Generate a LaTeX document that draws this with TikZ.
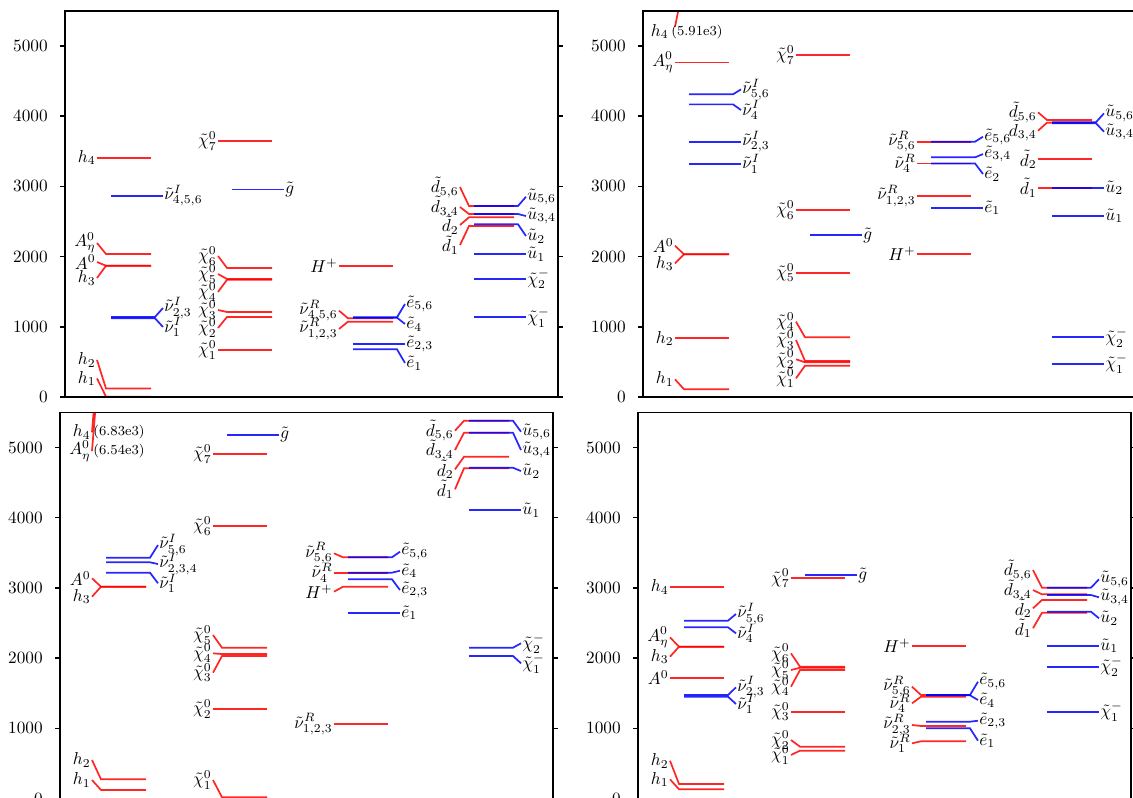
\documentclass[tikz,border=0pt]{standalone}
\usepackage{amsmath}
\usepackage{amssymb}
\usepackage{tikz}

\tikzset{
  redlvl/.style={draw=red, line width=1pt, draw opacity=0.85},
  bluelvl/.style={draw=blue, line width=1pt, draw opacity=0.85},
  lbl/.style={inner sep=0.6pt},
  axisline/.style={black, line width=0.85pt},
  ticklbl/.style={anchor=east, inner sep=0pt}
}

% level with label on the left (column, mass, label height, label)
\newcommand{\rlvl}[4]{%
  \draw[redlvl] ({32+121*#1},#3) -- ({41+121*#1},#2) -- ({86+121*#1},#2);
  \node[lbl,anchor=east] at ({32+121*#1},#3) {$#4$};}
% level with label on the right
\newcommand{\blvl}[4]{%
  \draw[bluelvl] ({46+121*#1},#2) -- ({90+121*#1},#2) -- ({98+121*#1},#3);
  \node[lbl,anchor=west] at ({98+121*#1},#3) {$#4$};}
% frame and ticks of one panel
\newcommand{\panelframe}{%
  \draw[axisline] (0,0) rectangle (493,5500);
  \foreach \m in {0,1000,...,5000} {
    \draw[axisline] (0,\m) -- (-5,\m);
    \draw[axisline] (493,\m) -- (498,\m);
    \node[ticklbl] at (-17,\m) {\m};
  }}

\begin{document}
\begin{tikzpicture}[x=0.58pt,y=0.58pt]
\clip (0,0) rectangle (1133,798);

% top left
\begin{scope}[shift={(65,401)},y=0.040716pt]
\begin{scope}
\clip (0,0) rectangle (493,5500);
\rlvl{0}{5}{265}{h_1}
\rlvl{0}{120}{527}{h_2}
\rlvl{0}{1870}{1695}{h_3}
\rlvl{0}{1870}{1923}{A^0}
\rlvl{0}{2037}{2194}{A^0_\eta}
\rlvl{0}{3409}{3409}{h_4}
\blvl{0}{1121}{997}{\tilde\nu^I_1}
\blvl{0}{1140}{1268}{\tilde\nu^I_{2,3}}
\blvl{0}{2868}{2868}{\tilde\nu^I_{4,5,6}}
\rlvl{1}{670}{670}{\tilde\chi^0_1}
\rlvl{1}{1140}{983}{\tilde\chi^0_2}
\rlvl{1}{1211}{1239}{\tilde\chi^0_3}
\rlvl{1}{1670}{1496}{\tilde\chi^0_4}
\rlvl{1}{1681}{1752}{\tilde\chi^0_5}
\rlvl{1}{1838}{2009}{\tilde\chi^0_6}
\rlvl{1}{3647}{3647}{\tilde\chi^0_7}
\blvl{1}{2958}{2958}{\tilde g}
\rlvl{2}{1073}{969}{\tilde\nu^R_{1,2,3}}
\rlvl{2}{1121}{1230}{\tilde\nu^R_{4,5,6}}
\rlvl{2}{1870}{1870}{H^+}
\blvl{2}{679}{484}{\tilde e_1}
\blvl{2}{755}{755}{\tilde e_{2,3}}
\blvl{2}{1130}{1040}{\tilde e_4}
\blvl{2}{1135}{1325}{\tilde e_{5,6}}
\rlvl{3}{2436}{2165}{\tilde d_1}
\rlvl{3}{2560}{2450}{\tilde d_2}
\rlvl{3}{2607}{2707}{\tilde d_{3,4}}
\rlvl{3}{2721}{2991}{\tilde d_{5,6}}
\blvl{3}{2033}{2033}{\tilde u_1}
\blvl{3}{2460}{2293}{\tilde u_2}
\blvl{3}{2607}{2578}{\tilde u_{3,4}}
\blvl{3}{2721}{2853}{\tilde u_{5,6}}
\blvl{3}{1135}{1135}{\tilde\chi^-_1}
\blvl{3}{1681}{1681}{\tilde\chi^-_2}
\end{scope}
\panelframe
\end{scope}

% top right
\begin{scope}[shift={(643,401)},y=0.040716pt]
\begin{scope}
\clip (0,0) rectangle (493,5500);
\rlvl{0}{110}{252}{h_1}
\rlvl{0}{836}{836}{h_2}
\rlvl{0}{2033}{1904}{h_3}
\rlvl{0}{2033}{2155}{A^0}
\rlvl{0}{4767}{4767}{A^0_\eta}
\draw[redlvl] (32,5274) -- (41,5910);
\node[lbl,anchor=east] at (27,5204) {$h_4$};
\node[lbl,anchor=west,font=\footnotesize] at (27,5204) {(5.91e3)};
\blvl{0}{3323}{3323}{\tilde\nu^I_1}
\blvl{0}{3637}{3637}{\tilde\nu^I_{2,3}}
\blvl{0}{4169}{4088}{\tilde\nu^I_4}
\blvl{0}{4312}{4383}{\tilde\nu^I_{5,6}}
\rlvl{1}{446}{266}{\tilde\chi^0_1}
\rlvl{1}{494}{537}{\tilde\chi^0_2}
\rlvl{1}{513}{812}{\tilde\chi^0_3}
\rlvl{1}{850}{1073}{\tilde\chi^0_4}
\rlvl{1}{1771}{1771}{\tilde\chi^0_5}
\rlvl{1}{2664}{2664}{\tilde\chi^0_6}
\rlvl{1}{4872}{4872}{\tilde\chi^0_7}
\blvl{1}{2308}{2308}{\tilde g}
\rlvl{2}{2041}{2041}{H^+}
\rlvl{2}{2863}{2863}{\tilde\nu^R_{1,2,3}}
\rlvl{2}{3328}{3328}{\tilde\nu^R_4}
\rlvl{2}{3637}{3637}{\tilde\nu^R_{5,6}}
\blvl{2}{2697}{2697}{\tilde e_1}
\blvl{2}{3328}{3177}{\tilde e_2}
\blvl{2}{3414}{3461}{\tilde e_{3,4}}
\blvl{2}{3637}{3708}{\tilde e_{5,6}}
\rlvl{3}{2982}{2982}{\tilde d_1}
\rlvl{3}{3386}{3386}{\tilde d_2}
\rlvl{3}{3908}{3793}{\tilde d_{3,4}}
\rlvl{3}{3946}{4056}{\tilde d_{5,6}}
\blvl{3}{2583}{2583}{\tilde u_1}
\blvl{3}{2982}{2982}{\tilde u_2}
\blvl{3}{3900}{3779}{\tilde u_{3,4}}
\blvl{3}{3915}{4041}{\tilde u_{5,6}}
\blvl{3}{474}{474}{\tilde\chi^-_1}
\blvl{3}{850}{850}{\tilde\chi^-_2}
\end{scope}
\panelframe
\end{scope}

% bottom left
\begin{scope}[shift={(60,-0.5)},y=0.040716pt]
\begin{scope}
\clip (0,0) rectangle (493,5500);
\draw[redlvl] (32,5217) -- (41,6830);
\draw[redlvl] (32,4950) -- (41,6540);
\node[lbl,anchor=east] at (32,5217) {$h_4$};
\node[lbl,anchor=west,font=\footnotesize] at (32,5217) {(6.83e3)};
\node[lbl,anchor=east] at (32,4950) {$A^0_\eta$};
\node[lbl,anchor=west,font=\footnotesize] at (32,4950) {(6.54e3)};
\rlvl{0}{121}{263}{h_1}
\rlvl{0}{273}{548}{h_2}
\rlvl{0}{3017}{2875}{h_3}
\rlvl{0}{3017}{3137}{A^0}
\blvl{0}{3217}{3066}{\tilde\nu^I_1}
\blvl{0}{3365}{3340}{\tilde\nu^I_{2,3,4}}
\blvl{0}{3430}{3611}{\tilde\nu^I_{5,6}}
\rlvl{1}{17}{263}{\tilde\chi^0_1}
\rlvl{1}{1275}{1275}{\tilde\chi^0_2}
\rlvl{1}{2030}{1792}{\tilde\chi^0_3}
\rlvl{1}{2058}{2068}{\tilde\chi^0_4}
\rlvl{1}{2148}{2329}{\tilde\chi^0_5}
\rlvl{1}{3882}{3882}{\tilde\chi^0_6}
\rlvl{1}{4907}{4907}{\tilde\chi^0_7}
\blvl{1}{5182}{5182}{\tilde g}
\rlvl{2}{1057}{1057}{\tilde\nu^R_{1,2,3}}
\rlvl{2}{3017}{2946}{H^+}
\rlvl{2}{3217}{3217}{\tilde\nu^R_4}
\rlvl{2}{3436}{3493}{\tilde\nu^R_{5,6}}
\blvl{2}{2647}{2647}{\tilde e_1}
\blvl{2}{3122}{2970}{\tilde e_{2,3}}
\blvl{2}{3217}{3245}{\tilde e_4}
\blvl{2}{3436}{3516}{\tilde e_{5,6}}
\rlvl{3}{4704}{4405}{\tilde d_1}
\rlvl{3}{4869}{4689}{\tilde d_2}
\rlvl{3}{5211}{4964}{\tilde d_{3,4}}
\rlvl{3}{5382}{5240}{\tilde d_{5,6}}
\blvl{3}{4110}{4110}{\tilde u_1}
\blvl{3}{4712}{4665}{\tilde u_2}
\blvl{3}{5211}{4964}{\tilde u_{3,4}}
\blvl{3}{5382}{5225}{\tilde u_{5,6}}
\blvl{3}{2030}{1926}{\tilde\chi^-_1}
\blvl{3}{2148}{2211}{\tilde\chi^-_2}
\end{scope}
\panelframe
\end{scope}

% bottom right
\begin{scope}[shift={(638,-0.5)},y=0.040716pt]
\begin{scope}
\clip (0,0) rectangle (493,5500);
\rlvl{0}{131}{273}{h_1}
\rlvl{0}{207}{538}{h_2}
\rlvl{0}{1721}{1721}{A^0}
\rlvl{0}{2162}{2020}{h_3}
\rlvl{0}{2162}{2296}{A^0_\eta}
\rlvl{0}{3009}{3009}{h_4}
\blvl{0}{1450}{1346}{\tilde\nu^I_1}
\blvl{0}{1474}{1584}{\tilde\nu^I_{2,3}}
\blvl{0}{2439}{2353}{\tilde\nu^I_4}
\blvl{0}{2533}{2628}{\tilde\nu^I_{5,6}}
\rlvl{1}{681}{620}{\tilde\chi^0_1}
\rlvl{1}{738}{833}{\tilde\chi^0_2}
\rlvl{1}{1237}{1237}{\tilde\chi^0_3}
\rlvl{1}{1830}{1593}{\tilde\chi^0_4}
\rlvl{1}{1863}{1830}{\tilde\chi^0_5}
\rlvl{1}{1877}{2068}{\tilde\chi^0_6}
\rlvl{1}{3137}{3137}{\tilde\chi^0_7}
\blvl{1}{3184}{3184}{\tilde g}
\rlvl{2}{815}{786}{\tilde\nu^R_1}
\rlvl{2}{1033}{1047}{\tilde\nu^R_{2,3}}
\rlvl{2}{1450}{1356}{\tilde\nu^R_4}
\rlvl{2}{1474}{1593}{\tilde\nu^R_{5,6}}
\rlvl{2}{2172}{2172}{H^+}
\blvl{2}{1000}{823}{\tilde e_1}
\blvl{2}{1094}{1108}{\tilde e_{2,3}}
\blvl{2}{1470}{1403}{\tilde e_4}
\blvl{2}{1474}{1664}{\tilde e_{5,6}}
\rlvl{3}{2647}{2425}{\tilde d_1}
\rlvl{3}{2828}{2709}{\tilde d_2}
\rlvl{3}{2909}{2970}{\tilde d_{3,4}}
\rlvl{3}{3003}{3255}{\tilde d_{5,6}}
\blvl{3}{2177}{2177}{\tilde u_1}
\blvl{3}{2661}{2567}{\tilde u_2}
\blvl{3}{2899}{2866}{\tilde u_{3,4}}
\blvl{3}{3003}{3123}{\tilde u_{5,6}}
\blvl{3}{1237}{1237}{\tilde\chi^-_1}
\blvl{3}{1877}{1877}{\tilde\chi^-_2}
\end{scope}
\panelframe
\end{scope}
\end{tikzpicture}
\end{document}
